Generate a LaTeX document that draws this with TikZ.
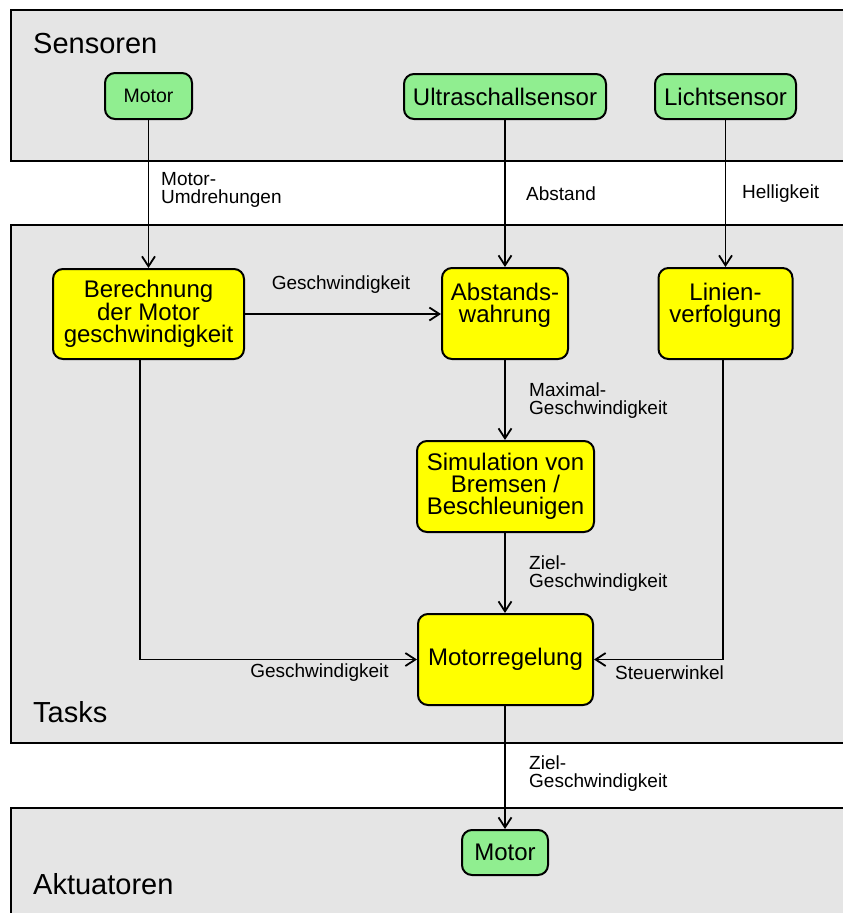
\documentclass[tikz,border=0pt]{standalone}
\usepackage{fontspec}
\setmainfont{Liberation Sans}
\usetikzlibrary{arrows.meta,calc}
\definecolor{regiongray}{RGB}{229,229,229}
\definecolor{sensgreen}{RGB}{144,238,144}
\definecolor{taskyellow}{RGB}{255,255,0}
\tikzset{
  region/.style={draw=black,fill=regiongray,line width=2pt},
  regionlabel/.style={font=\fontsize{29}{32}\selectfont,anchor=base west,inner sep=0pt},
  greenbox/.style={draw=black,fill=sensgreen,line width=2pt,rounded corners=10pt,inner sep=0pt,align=center,font=\fontsize{24}{22}\selectfont},
  taskbox/.style={draw=black,fill=taskyellow,line width=2pt,rounded corners=10pt,inner sep=0pt,align=center,font=\fontsize{24}{22}\selectfont},
  lbl/.style={font=\fontsize{19}{18}\selectfont,align=left,inner sep=0pt},
  flow/.style={line width=1.8pt,-{Straight Barb[length=10pt,width=13pt,line width=1.8pt]}}
}
\begin{document}
\begin{tikzpicture}[x=1pt,y=-1pt]
\useasboundingbox (0,0) rectangle (843,913);
% regions
\draw[region] (11,9.5) rectangle (870,160.5);
\draw[region] (11,225) rectangle (870,743);
\draw[region] (11,808) rectangle (870,940);
\node[regionlabel] (lsens) at (33,53) {Sensoren};
\node[regionlabel] (ltasks) at (33,722) {Tasks};
\node[regionlabel] (lakt) at (33,894) {Aktuatoren};
% sensor nodes
\node[greenbox,minimum width=87pt,minimum height=46pt,font=\fontsize{19.5}{22}\selectfont] (smotor) at (148.5,96) {Motor};
\node[greenbox,minimum width=202pt,minimum height=45pt] (ultra) at (505,96.5) {Ultraschallsensor};
\node[greenbox,minimum width=141pt,minimum height=45pt] (licht) at (725.5,96.5) {Lichtsensor};
% task nodes
\node[taskbox,minimum width=191pt,minimum height=90pt] (berech) at (148.5,314) {Berechnung\\der Motor\\geschwindigkeit};
\node[taskbox,minimum width=126pt,minimum height=91pt] (abst) at (505,313.5) {Abstands-\\wahrung\\\mbox{}};
\node[taskbox,minimum width=134pt,minimum height=91pt] (linien) at (725.5,313.5) {Linien-\\verfolgung\\\mbox{}};
\node[taskbox,minimum width=177pt,minimum height=91pt] (sim) at (505.5,486.5) {Simulation von\\Bremsen /\\Beschleunigen};
\node[taskbox,minimum width=175pt,minimum height=91pt] (regel) at (505.5,659.5) {Motorregelung};
% actuator
\node[greenbox,minimum width=86pt,minimum height=45pt] (amotor) at (505,852.5) {Motor};
% connectors
\draw[flow] (smotor.south) -- (berech.north);
\draw[flow] (ultra.south) -- (abst.north);
\draw[flow] (licht.south) -- (linien.north);
\draw[flow] (berech.east) -- (berech.east -| abst.west);
\draw[flow] (abst.south) -- (abst.south |- sim.north);
\draw[flow] (sim.south -| abst.south) -- (regel.north -| abst.south);
\draw[flow] ([xshift=-8.5pt]berech.south) |- (regel.west);
\draw[flow] ([xshift=-2.5pt]linien.south) |- (regel.east);
\draw[flow] (regel.south -| amotor.north) -- (amotor.north);
% labels
\node[lbl,anchor=west] (t1) at (161,190) {Motor-\\Umdrehungen};
\node[lbl,anchor=west] (t2) at (526,194) {Abstand};
\node[lbl,anchor=west] (t3) at (742,194) {Helligkeit};
\node[lbl] (t4) at (341,285) {Geschwindigkeit};
\node[lbl,anchor=west] (t5) at (529,401) {Maximal-\\Geschwindigkeit};
\node[lbl,anchor=west] (t6) at (529,574) {Ziel-\\Geschwindigkeit};
\node[lbl] (t7) at (319.5,673) {Geschwindigkeit};
\node[lbl,anchor=west] (t8) at (615,673) {Steuerwinkel};
\node[lbl,anchor=west] (t9) at (529,774) {Ziel-\\Geschwindigkeit};
\end{tikzpicture}
\end{document}
